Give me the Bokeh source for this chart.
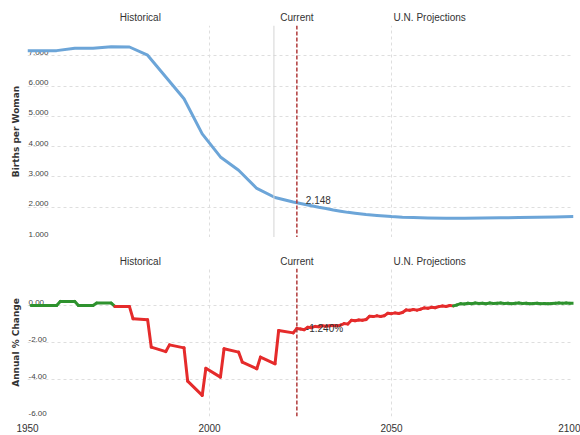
from bokeh.plotting import figure
from bokeh.layouts import column
from bokeh.models import Span, FixedTicker, Range1d, ColumnDataSource
from bokeh.core.properties import value
from bokeh.embed import file_html
from bokeh.resources import INLINE

# ---------------- data ----------------
fert_years = [1950, 1958, 1963, 1968, 1973, 1978, 1983, 1988, 1993, 1998, 2003,
              2008, 2013, 2018, 2023, 2024, 2026, 2028, 2030, 2032, 2034, 2036,
              2038, 2040, 2043, 2046, 2048, 2050, 2053, 2056, 2060, 2065, 2070,
              2075, 2080, 2085, 2090, 2095, 2100]
fert_values = [7.17, 7.17, 7.25, 7.25, 7.30, 7.29, 7.02, 6.30, 5.58, 4.42, 3.66,
               3.22, 2.62, 2.32, 2.17, 2.148, 2.10, 2.05, 2.00, 1.96, 1.91, 1.87,
               1.83, 1.80, 1.76, 1.73, 1.71, 1.69, 1.67, 1.66, 1.645, 1.635, 1.635,
               1.64, 1.65, 1.66, 1.67, 1.68, 1.69]

chg_years = [1951, 1958, 1959, 1963, 1964, 1968, 1969, 1973, 1974, 1978, 1979, 1983,
             1984, 1988, 1989, 1993, 1994, 1998, 1999, 2003, 2004, 2008, 2009, 2013,
             2014, 2018, 2019, 2023, 2024, 2025, 2026, 2027, 2028, 2029, 2030, 2031,
             2032, 2033, 2034, 2035, 2036, 2037, 2038, 2039, 2040, 2041, 2042, 2043,
             2044, 2045, 2046, 2047, 2048, 2049, 2050, 2051, 2052, 2053, 2054, 2055,
             2056, 2057, 2058, 2059, 2060, 2061, 2062, 2063, 2064, 2065, 2066, 2067,
             2068, 2069, 2070, 2071, 2072, 2073, 2074, 2075, 2076, 2077, 2078, 2079,
             2080, 2081, 2082, 2083, 2084, 2085, 2086, 2087, 2088, 2089, 2090, 2091,
             2092, 2093, 2094, 2095, 2096, 2097, 2098, 2099, 2100]
chg_values = [0.00, 0.00, 0.22, 0.22, 0.00, 0.00, 0.13, 0.13, -0.05, -0.05, -0.72, -0.77,
              -2.25, -2.49, -2.13, -2.29, -4.09, -4.86, -3.39, -3.87, -2.34, -2.52, -3.06, -3.42,
              -2.79, -3.15, -1.35, -1.48, -1.24, -1.27, -1.31, -1.18, -1.20, -1.13, -1.15, -1.10,
              -1.12, -1.10, -1.08, -1.10, -1.06, -0.98, -1.00, -0.80, -0.82, -0.78, -0.80, -0.76,
              -0.58, -0.60, -0.56, -0.59, -0.55, -0.42, -0.44, -0.40, -0.43, -0.38, -0.24, -0.26,
              -0.22, -0.25, -0.20, -0.13, -0.15, -0.10, -0.12, -0.06, -0.03, -0.05, 0.00, -0.02,
              0.03, 0.10, 0.08, 0.12, 0.10, 0.13, 0.11, 0.12, 0.10, 0.13, 0.11, 0.12,
              0.13, 0.11, 0.12, 0.10, 0.12, 0.13, 0.11, 0.12, 0.09, 0.11, 0.12, 0.10,
              0.11, 0.09, 0.11, 0.12, 0.13, 0.12, 0.13, 0.12, 0.12]

current_year = 2024
current_fert = 2.148
current_chg = -1.240
hist_last_year = 2017.7

top_ticks = [1, 2, 3, 4, 5, 6, 7, 8]
top_label_ticks = [1, 2, 3, 4, 5, 6, 7]
top_tick_labels = ["1.000", "2.000", "3.000", "4.000", "5.000", "6.000", "7.000"]
bot_ticks = [-6, -4, -2, 0, 2]
bot_label_ticks = [-6, -4, -2, 0]
bot_tick_labels = ["-6.00", "-4.00", "-2.00", "0.00"]
x_ticks = [1950, 2000, 2050, 2100]

section_text = ["Historical", "Current", "U.N. Projections"]
section_x = [1981, 2024, 2060.5]

BLUE = "#6ca5d8"
RED = "#e52b2b"
GREEN = "#2e922e"
DASH_RED = "#b03a3a"
GRID = "#dedede"
TXT = "#333333"
FONT = "Liberation Sans"

W = 580
LEFT = 27
RIGHT = 7
X_RANGE = Range1d(1950, 2100)


def base(height, y_range, **kw):
    p = figure(width=W, height=height, x_range=X_RANGE, y_range=y_range,
               output_backend="svg", toolbar_location=None,
               min_border_left=LEFT, min_border_right=RIGHT, **kw)
    p.outline_line_color = None
    p.background_fill_color = "white"
    p.border_fill_color = "white"
    return p


def header(height, label_y):
    h = base(height, Range1d(0, height), min_border_top=0, min_border_bottom=0)
    h.xaxis.visible = False
    h.yaxis.visible = False
    h.grid.visible = False
    h.text(x=section_x, y=[label_y] * len(section_x), text=section_text,
           text_align="center", text_baseline="middle",
           text_font=value(FONT), text_font_size="10px", text_color=TXT)
    return h


def style(p, ticks, title):
    p.ygrid.ticker = FixedTicker(ticks=ticks)
    p.xgrid.ticker = FixedTicker(ticks=x_ticks)
    for g in (p.xgrid, p.ygrid):
        g.grid_line_color = GRID
        g.grid_line_dash = "3 3"
        g.grid_line_width = 1
    ax = p.yaxis[0]
    ax.ticker = FixedTicker(ticks=[])
    ax.axis_line_color = None
    ax.major_tick_line_color = None
    ax.minor_tick_line_color = None
    ax.major_tick_out = 0
    ax.major_tick_in = 0
    ax.major_label_standoff = 0
    ax.axis_label = title
    ax.axis_label_text_font = "DejaVu Sans"
    ax.axis_label_text_font_style = "bold"
    ax.axis_label_text_font_size = "9px"
    ax.axis_label_text_color = TXT
    ax.axis_label_standoff = 7


def ticklabels(p, ys, labels):
    p.text(x=[x_ticks[0]] * len(ys), y=ys, text=labels, x_offset=1, y_offset=-1,
           text_baseline="bottom", text_align="left",
           text_font=value(FONT), text_font_size="8px", text_color="#444444")


# ---------------- header above top chart ----------------
head1 = header(25, 8)

# ---------------- top chart ----------------
top = base(212, Range1d(1, 8), min_border_top=0, min_border_bottom=0)
style(top, top_ticks, "Births per Woman")
top.xaxis.visible = False
ticklabels(top, top_label_ticks, top_tick_labels)
top.add_layout(Span(location=hist_last_year, dimension="height",
                    line_color="#d4d4d4", line_width=1))
top.add_layout(Span(location=current_year, dimension="height",
                    line_color=DASH_RED, line_width=1.5, line_dash="4 2"))
top.line(fert_years, fert_values, line_color=BLUE, line_width=3, line_join="round")
top.text(x=[current_year], y=[current_fert], text=["%.3f" % current_fert],
         x_offset=9, y_offset=-3, text_baseline="middle",
         text_font=value(FONT), text_font_size="10px", text_color=TXT)

# ---------------- header above bottom chart ----------------
head2 = header(31, 7)

# ---------------- bottom chart ----------------
bot = base(167, Range1d(-6, 2), min_border_top=0, min_border_bottom=19)
style(bot, bot_ticks, "Annual % Change")
xa = bot.xaxis[0]
xa.ticker = FixedTicker(ticks=x_ticks)
xa.axis_line_color = None
xa.major_tick_line_color = None
xa.minor_tick_line_color = None
xa.major_tick_out = 0
xa.major_tick_in = 0
xa.major_label_standoff = 7
xa.major_label_text_font = FONT
xa.major_label_text_font_size = "10px"
xa.major_label_text_color = TXT
ticklabels(bot, bot_label_ticks, bot_tick_labels)
bot.add_layout(Span(location=current_year, dimension="height",
                    line_color=DASH_RED, line_width=1.5, line_dash="4 2"))

xs, ys, cols = [], [], []
for i in range(len(chg_years) - 1):
    xs.append([chg_years[i], chg_years[i + 1]])
    ys.append([chg_values[i], chg_values[i + 1]])
    cols.append(GREEN if (chg_values[i] + chg_values[i + 1]) / 2 >= 0 else RED)
src = ColumnDataSource(dict(xs=xs, ys=ys, color=cols))
bot.multi_line(xs="xs", ys="ys", line_color="color", line_width=3,
               line_cap="round", line_join="round", source=src)
bot.text(x=[current_year], y=[current_chg], text=["%.3f%%" % current_chg],
         x_offset=9, y_offset=0, text_baseline="middle",
         text_font=value(FONT), text_font_size="10px", text_color=TXT)

layout = column(head1, top, head2, bot, spacing=0)
open("out.html", "w").write(file_html(layout, INLINE))
